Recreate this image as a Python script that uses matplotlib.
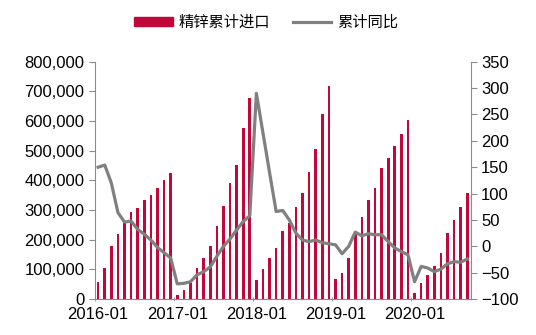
import numpy as np
import matplotlib.pyplot as plt
from matplotlib.ticker import FuncFormatter, MultipleLocator

plt.rcParams['font.family'] = ['Liberation Sans', 'Noto Sans CJK SC', 'DejaVu Sans']

# 精锌累计进口 (吨), 2016-01 .. 2020-09
imports_2016 = [59, 104, 179, 220, 258, 292, 308, 334, 350, 376, 402, 424]
imports_2017 = [15, 31, 54, 104, 138, 179, 248, 315, 390, 452, 575, 676]
imports_2018 = [65, 103, 137, 171, 230, 257, 311, 358, 427, 507, 622, 718]
imports_2019 = [68, 87, 140, 227, 278, 334, 376, 443, 474, 516, 556, 605]
imports_2020 = [22, 54, 82, 113, 157, 222, 267, 312, 357]

# 累计同比 (%)
yoy_2016 = [150, 154, 120, 64, 46, 48, 32, 23, 12, -2, -12, -22]
yoy_2017 = [-71, -70, -67, -54, -48, -39, -19, 0, 14, 31, 47, 58]
yoy_2018 = [290, 215, 140, 66, 68, 50, 25, 12, 9, 12, 7, 5]
yoy_2019 = [3, -14, 0, 27, 20, 24, 22, 22, 9, -3, -10, -16]
yoy_2020 = [-67, -38, -41, -48, -43, -33, -29, -30, -24]

tick_labels = ['2016-01', '2017-01', '2018-01', '2019-01', '2020-01']

imports = np.array(imports_2016 + imports_2017 + imports_2018 + imports_2019 + imports_2020) * 1000
yoy = np.array(yoy_2016 + yoy_2017 + yoy_2018 + yoy_2019 + yoy_2020)
x = np.arange(len(imports))

red = '#C0093A'
gray = '#808080'
axis_gray = '#8C8C8C'

fig = plt.figure(figsize=(5.36, 3.35), dpi=100)
ax = fig.add_axes([0.177, 0.107, 0.701, 0.709])
ax2 = ax.twinx()

ax.bar(x, imports, width=0.4, color=red, zorder=2)
ax2.plot(x, yoy, color=gray, lw=2.3, zorder=3)

ax.set_xlim(-0.5, len(x) - 0.5)
ax.set_ylim(0, 800000)
ax.yaxis.set_major_locator(MultipleLocator(100000))
ax.yaxis.set_major_formatter(FuncFormatter(lambda v, p: f'{int(v):,}'))
ax2.set_ylim(-100, 350)
ax2.yaxis.set_major_locator(MultipleLocator(50))

ax.set_xticks(np.arange(0, len(x), 12))
ax.set_xticklabels(tick_labels)
ax.set_xticks(np.arange(-0.5, len(x), 12), minor=True)
ax.tick_params(axis='x', which='major', length=0, labelsize=12, pad=6)
ax.tick_params(axis='x', which='minor', length=3, direction='inout', color=axis_gray)
ax.tick_params(axis='y', length=4, color=axis_gray, labelsize=12)
ax2.tick_params(axis='y', length=4, color=axis_gray, labelsize=12)

for a in (ax, ax2):
    a.spines['top'].set_visible(False)
    for s in ('left', 'right', 'bottom'):
        a.spines[s].set_color(axis_gray)
ax.spines['right'].set_visible(False)
ax2.spines['left'].set_visible(False)
ax2.spines['bottom'].set_visible(False)

h1 = plt.Rectangle((0, 0), 1, 1, color=red)
h2 = plt.Line2D([], [], color=gray, lw=2.3)
fig.legend([h1, h2], ['精锌累计进口', '累计同比'], loc='center', bbox_to_anchor=(0.497, 0.934),
           ncol=2, frameon=False, handlelength=2.5, handleheight=0.5, columnspacing=1.5,
           handletextpad=0.4, prop={'family': ['Noto Sans CJK SC'], 'size': 11})

fig.savefig('out.png', dpi=100)
